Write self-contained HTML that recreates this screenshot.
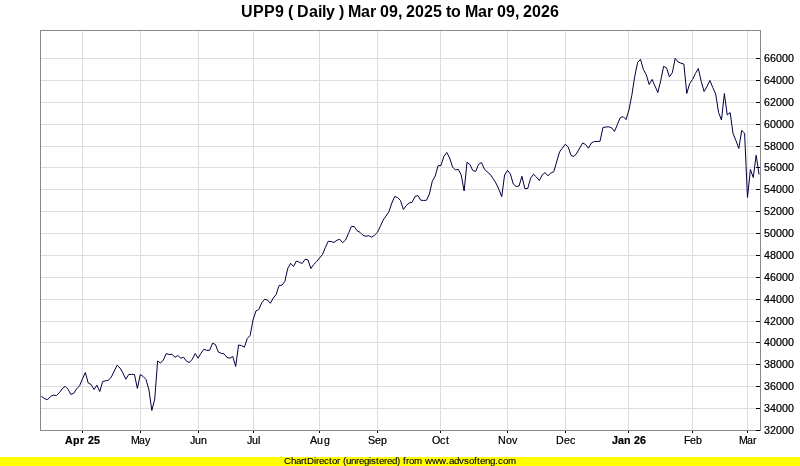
<!DOCTYPE html>
<html><head><meta charset="utf-8"><title>UPP9 ( Daily )</title>
<style>
html,body{margin:0;padding:0;background:#fff}
body{width:800px;height:466px;overflow:hidden}
svg{display:block}
text{font-family:"Liberation Sans",Arial,sans-serif;fill:#000;white-space:pre}
.ax text{filter:url(#tx)}
</style></head><body>
<svg width="800" height="466" viewBox="0 0 800 466">
<defs><filter id="tx" x="-5%" y="-30%" width="110%" height="160%" color-interpolation-filters="sRGB"><feComponentTransfer><feFuncA type="gamma" amplitude="1" exponent="0.65" offset="0"/></feComponentTransfer></filter><filter id="tf" x="-2%" y="-30%" width="104%" height="160%" color-interpolation-filters="sRGB"><feComponentTransfer><feFuncA type="gamma" amplitude="1" exponent="0.8" offset="0"/></feComponentTransfer></filter></defs>
<rect x="0" y="0" width="800" height="466" fill="#ffffff"/>
<text x="241 253 264 275 284 288 293 297 309 318 322 326 335 339 344 348 361 370 376 380 389 398 402 406 415 424 433 442 446 451 461 465 478 487 493 497 506 515 519 523 532 541 550" y="17" font-size="16" font-weight="bold" xml:space="preserve">UPP9 ( Daily ) Mar 09, 2025 to Mar 09, 2026</text>
<g shape-rendering="crispEdges" stroke="#dddddd" stroke-width="1" fill="none">
<line x1="82.5" y1="30" x2="82.5" y2="430"/>
<line x1="140.5" y1="30" x2="140.5" y2="430"/>
<line x1="198.5" y1="30" x2="198.5" y2="430"/>
<line x1="253.5" y1="30" x2="253.5" y2="430"/>
<line x1="319.5" y1="30" x2="319.5" y2="430"/>
<line x1="377.5" y1="30" x2="377.5" y2="430"/>
<line x1="440.5" y1="30" x2="440.5" y2="430"/>
<line x1="507.5" y1="30" x2="507.5" y2="430"/>
<line x1="565.5" y1="30" x2="565.5" y2="430"/>
<line x1="628.5" y1="30" x2="628.5" y2="430"/>
<line x1="692.5" y1="30" x2="692.5" y2="430"/>
<line x1="747.5" y1="30" x2="747.5" y2="430"/>
<line x1="40" y1="408.5" x2="760" y2="408.5"/>
<line x1="40" y1="386.5" x2="760" y2="386.5"/>
<line x1="40" y1="364.5" x2="760" y2="364.5"/>
<line x1="40" y1="342.5" x2="760" y2="342.5"/>
<line x1="40" y1="321.5" x2="760" y2="321.5"/>
<line x1="40" y1="299.5" x2="760" y2="299.5"/>
<line x1="40" y1="277.5" x2="760" y2="277.5"/>
<line x1="40" y1="255.5" x2="760" y2="255.5"/>
<line x1="40" y1="233.5" x2="760" y2="233.5"/>
<line x1="40" y1="211.5" x2="760" y2="211.5"/>
<line x1="40" y1="189.5" x2="760" y2="189.5"/>
<line x1="40" y1="167.5" x2="760" y2="167.5"/>
<line x1="40" y1="146.5" x2="760" y2="146.5"/>
<line x1="40" y1="124.5" x2="760" y2="124.5"/>
<line x1="40" y1="102.5" x2="760" y2="102.5"/>
<line x1="40" y1="80.5" x2="760" y2="80.5"/>
<line x1="40" y1="58.5" x2="760" y2="58.5"/>
</g>
<g shape-rendering="crispEdges" stroke="#888888" stroke-width="1" fill="none">
<rect x="40.5" y="30.5" width="720" height="400"/>
</g>
<g shape-rendering="crispEdges" stroke="#000000" stroke-width="1" fill="none">
<line x1="756" y1="430.5" x2="760" y2="430.5"/>
<line x1="756" y1="408.5" x2="760" y2="408.5"/>
<line x1="756" y1="386.5" x2="760" y2="386.5"/>
<line x1="756" y1="364.5" x2="760" y2="364.5"/>
<line x1="756" y1="342.5" x2="760" y2="342.5"/>
<line x1="756" y1="321.5" x2="760" y2="321.5"/>
<line x1="756" y1="299.5" x2="760" y2="299.5"/>
<line x1="756" y1="277.5" x2="760" y2="277.5"/>
<line x1="756" y1="255.5" x2="760" y2="255.5"/>
<line x1="756" y1="233.5" x2="760" y2="233.5"/>
<line x1="756" y1="211.5" x2="760" y2="211.5"/>
<line x1="756" y1="189.5" x2="760" y2="189.5"/>
<line x1="756" y1="167.5" x2="760" y2="167.5"/>
<line x1="756" y1="146.5" x2="760" y2="146.5"/>
<line x1="756" y1="124.5" x2="760" y2="124.5"/>
<line x1="756" y1="102.5" x2="760" y2="102.5"/>
<line x1="756" y1="80.5" x2="760" y2="80.5"/>
<line x1="756" y1="58.5" x2="760" y2="58.5"/>
<line x1="82.5" y1="431" x2="82.5" y2="433"/>
<line x1="140.5" y1="431" x2="140.5" y2="433"/>
<line x1="198.5" y1="431" x2="198.5" y2="433"/>
<line x1="253.5" y1="431" x2="253.5" y2="433"/>
<line x1="319.5" y1="431" x2="319.5" y2="433"/>
<line x1="377.5" y1="431" x2="377.5" y2="433"/>
<line x1="440.5" y1="431" x2="440.5" y2="433"/>
<line x1="507.5" y1="431" x2="507.5" y2="433"/>
<line x1="565.5" y1="431" x2="565.5" y2="433"/>
<line x1="628.5" y1="431" x2="628.5" y2="433"/>
<line x1="692.5" y1="431" x2="692.5" y2="433"/>
<line x1="747.5" y1="431" x2="747.5" y2="433"/>
</g>
<g class="ax">
<text x="65 73 80 85 88 94" y="444" font-size="10.67" font-weight="bold" xml:space="preserve">Apr 25</text>
<text x="131 139 145" y="444" font-size="10.67" xml:space="preserve">May</text>
<text x="190 195 201" y="444" font-size="10.67" xml:space="preserve">Jun</text>
<text x="247 252 258" y="444" font-size="10.67" xml:space="preserve">Jul</text>
<text x="310 317 324" y="444" font-size="10.67" xml:space="preserve">Aug</text>
<text x="368 375 381" y="444" font-size="10.67" xml:space="preserve">Sep</text>
<text x="432 440 446" y="444" font-size="10.67" xml:space="preserve">Oct</text>
<text x="498 506 512" y="444" font-size="10.67" xml:space="preserve">Nov</text>
<text x="556 564 570" y="444" font-size="10.67" xml:space="preserve">Dec</text>
<text x="612 618 624 631 634 640" y="444" font-size="10.67" font-weight="bold" xml:space="preserve">Jan 26</text>
<text x="684 690 696" y="444" font-size="10.67" xml:space="preserve">Feb</text>
<text x="739 747 753" y="444" font-size="10.67" xml:space="preserve">Mar</text>
</g>
<g class="ax">
<text x="764 770 776 782 788" y="434" font-size="10.67" xml:space="preserve">32000</text>
<text x="764 770 776 782 788" y="412" font-size="10.67" xml:space="preserve">34000</text>
<text x="764 770 776 782 788" y="390" font-size="10.67" xml:space="preserve">36000</text>
<text x="764 770 776 782 788" y="368" font-size="10.67" xml:space="preserve">38000</text>
<text x="764 770 776 782 788" y="346" font-size="10.67" xml:space="preserve">40000</text>
<text x="764 770 776 782 788" y="325" font-size="10.67" xml:space="preserve">42000</text>
<text x="764 770 776 782 788" y="303" font-size="10.67" xml:space="preserve">44000</text>
<text x="764 770 776 782 788" y="281" font-size="10.67" xml:space="preserve">46000</text>
<text x="764 770 776 782 788" y="259" font-size="10.67" xml:space="preserve">48000</text>
<text x="764 770 776 782 788" y="237" font-size="10.67" xml:space="preserve">50000</text>
<text x="764 770 776 782 788" y="215" font-size="10.67" xml:space="preserve">52000</text>
<text x="764 770 776 782 788" y="193" font-size="10.67" xml:space="preserve">54000</text>
<text x="764 770 776 782 788" y="171" font-size="10.67" xml:space="preserve">56000</text>
<text x="764 770 776 782 788" y="150" font-size="10.67" xml:space="preserve">58000</text>
<text x="764 770 776 782 788" y="128" font-size="10.67" xml:space="preserve">60000</text>
<text x="764 770 776 782 788" y="106" font-size="10.67" xml:space="preserve">62000</text>
<text x="764 770 776 782 788" y="84" font-size="10.67" xml:space="preserve">64000</text>
<text x="764 770 776 782 788" y="62" font-size="10.67" xml:space="preserve">66000</text>
</g>
<polyline points="41.3,396.4 41.95,396.8 44.84,398.8 47.73,399.6 50.62,396.3 53.51,395.2 56.4,395.5 59.3,392.8 62.19,388.8 65.08,386.3 67.97,389.2 70.86,394.5 73.75,393.2 76.64,388.8 79.54,385.8 82.43,379 85.32,372.5 88.21,383 91.1,384.5 93.99,389.5 96.89,385.2 99.78,391.5 102.67,381.5 105.56,380.8 108.45,380.3 111.34,377 114.24,371 117.13,365.2 120.02,368 122.91,373 125.8,379.2 128.69,374.5 131.58,374.3 134.48,374.5 137.37,388.4 140.26,374.5 143.15,376.5 146.04,379.5 148.93,389.8 151.83,410.5 154.72,399 157.61,361 160.5,363 163.39,360 166.28,353.5 169.17,354.5 172.07,354.2 174.96,357.3 177.85,355.5 180.74,358.2 183.63,357.3 186.52,361.2 189.42,362.5 192.31,359.2 195.2,353.5 198.09,358.2 200.98,353.2 203.87,349.3 206.77,350.3 209.66,350.3 212.55,343.2 215.44,344.5 218.33,352 221.22,353.3 224.11,353.9 227.01,357.4 229.9,358.2 232.79,356.5 235.68,366.5 238.57,345 241.46,345.5 244.36,347.2 247.25,338.5 250.14,335.5 253.03,320 255.92,311 258.81,309.5 261.71,302.8 264.6,299.3 267.49,300 270.38,303.3 273.27,298 276.16,294.5 279.05,285.5 281.95,285.2 284.84,281.5 287.73,268.5 290.62,263.3 293.51,266.5 296.4,261 299.3,262.2 302.19,263.5 305.08,259.3 307.97,259.8 310.86,268.5 313.75,264.5 316.64,261.5 319.54,258 322.43,254.6 325.32,247.5 328.21,241.3 331.1,241.5 333.99,242.5 336.89,240.2 339.78,239.3 342.67,242.7 345.56,240 348.45,233.5 351.34,226.5 354.24,226.5 357.13,230.8 360.02,232.3 362.91,235.2 365.8,236.3 368.69,235.7 371.58,237.2 374.48,235.2 377.37,232.5 380.26,226.5 383.15,220 386.04,216 388.93,211.7 391.83,203 394.72,196.5 397.61,197.5 400.5,200.5 403.39,209.5 406.28,205.5 409.17,203 412.07,202.3 414.96,196.5 417.85,195.5 420.74,200.2 423.63,200.5 426.52,200.2 429.42,194 432.31,181.2 435.2,176 438.09,165.8 440.98,165.5 443.87,156.5 446.77,152.5 449.66,158 452.55,167 455.44,170 458.33,169.3 461.22,175 464.11,191 467.01,162.3 469.9,164.5 472.79,170.5 475.68,171.5 478.57,164.3 481.46,162.5 484.36,169 487.25,172 490.14,174.2 493.03,178.5 495.92,183 498.81,189.2 501.71,196.6 504.6,175 507.49,170.3 510.38,174 513.27,184 516.16,186.5 519.05,186 521.95,176.3 524.84,188.5 527.73,188.5 530.62,178.2 533.51,174.2 536.4,177 539.3,180.5 542.19,175 545.08,172.5 547.97,175.8 550.86,173 553.75,171.8 556.64,162 559.54,152 562.43,148 565.32,144.2 568.21,147 571.1,155.5 573.99,156.5 576.89,153 579.78,148 582.67,143 585.56,144.5 588.45,148.2 591.34,143 594.24,141.5 597.13,141.5 600.02,141.3 602.91,127.5 605.8,127 608.69,126.8 611.58,127.8 614.48,131.5 617.37,124.5 620.26,117.6 623.15,116.6 626.04,119.6 628.93,110 631.83,95.2 634.72,76.5 637.61,62.5 640.5,59.3 643.39,69.5 646.28,74.8 649.17,84.5 652.07,79.4 654.96,86 657.85,92.5 660.74,80.5 663.63,66.3 666.52,67.8 669.42,76.8 672.31,72.8 675.2,58.3 678.09,62 680.98,63.2 683.87,64 686.77,93.5 689.66,83.5 692.55,79.4 695.44,73.5 698.33,68.5 701.22,81.5 704.11,91.5 707.01,86.5 709.9,80.5 712.79,87.5 715.68,94 718.57,112.5 721.46,120 724.36,93.5 727.25,115 730.14,112.5 733.03,133.5 735.92,140.5 738.81,148.5 741.71,130.4 744.6,133.2 747.49,197.5 750.38,169.5 753.27,177.5 756.16,155.2 759.05,174.5" fill="none" stroke="#000040" stroke-width="1" stroke-linejoin="round"/>
<rect x="0" y="457" width="800" height="9" fill="#ffff00"/>
<text x="284 291 296 301 304 307 314 316 319 324 329 332 337 340 343 346 351 356 359 364 369 371 376 379 384 387 392 397 400 403 406 409 414 422 425 432 439 446 449 454 459 464 469 474 477 480 485 490 495 498 503 508" y="464" font-size="9.7" filter="url(#tf)" xml:space="preserve">ChartDirector (unregistered) from www.advsofteng.com</text>
</svg>
</body></html>
